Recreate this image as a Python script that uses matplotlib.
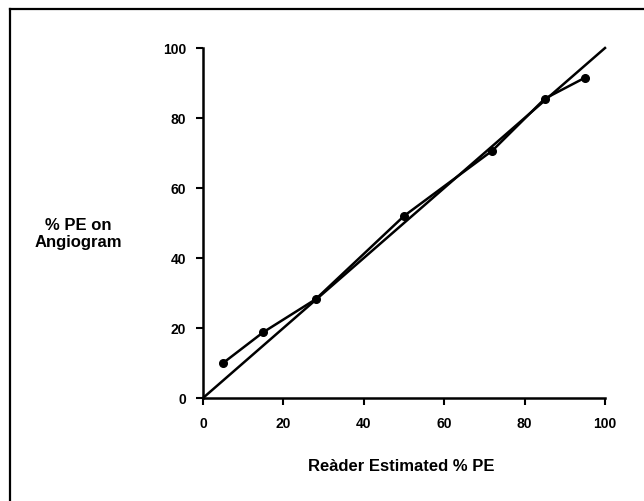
import matplotlib
matplotlib.use("Agg")
import matplotlib.pyplot as plt
from matplotlib.lines import Line2D

reader_estimated = [5, 15, 28, 50, 72, 85, 95]
angiogram_pe = [10, 18.8, 28.2, 52, 70.7, 85.5, 91.5]
identity_x = [0, 100]
identity_y = [0, 100]
xticks = [0, 20, 40, 60, 80, 100]
yticks = [0, 20, 40, 60, 80, 100]

plt.rcParams['font.family'] = ['Liberation Sans', 'DejaVu Sans']
plt.rcParams['font.weight'] = 'bold'

fig = plt.figure(figsize=(6.44, 5.02), dpi=100)
ax = fig.add_axes([203/644, 1 - 399/502, 402/644, 350/502])

ax.plot(identity_x, identity_y, color='black', lw=1.8, clip_on=False)
ax.plot(reader_estimated, angiogram_pe, color='black', lw=1.8, marker='o', ms=5.5, clip_on=False)

ax.set_xlim(0, 100)
ax.set_ylim(0, 100)
ax.set_xticks(xticks)
ax.set_yticks(yticks)
ax.set_xticklabels([str(v) for v in xticks], fontsize=10, fontweight='bold')
ax.set_yticklabels([str(v) for v in yticks], fontsize=10, fontweight='bold')
for s in ['top', 'right']:
    ax.spines[s].set_visible(False)
for s in ['left', 'bottom']:
    ax.spines[s].set_linewidth(1.8)
ax.tick_params(direction='out', length=5, width=1.5)
ax.tick_params(axis='x', pad=8)
ax.tick_params(axis='y', pad=7)

fig.text(401/644, 1 - 467/502, 'Reàder Estimated % PE', ha='center', va='center',
         fontsize=12, fontweight='bold')
fig.text(78/644, 1 - 234/502, '% PE on\nAngiogram', ha='center', va='center',
         fontsize=12, fontweight='bold', linespacing=1.15)

# frame lines (top and left)
fig.add_artist(Line2D([10/644, 10/644], [0, 1 - 10/502], transform=fig.transFigure, color='black', lw=1.6))
fig.add_artist(Line2D([10/644, 1], [1 - 10/502, 1 - 10/502], transform=fig.transFigure, color='black', lw=1.6))

fig.savefig('out.png', dpi=100)
